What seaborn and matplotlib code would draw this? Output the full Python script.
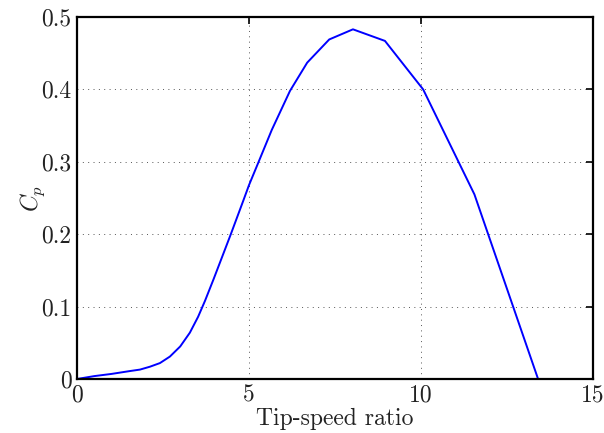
import matplotlib
matplotlib.use("Agg")
import matplotlib.pyplot as plt
import seaborn as sns
import pandas as pd

tsr = [0.0, 0.5, 1.0, 1.54, 1.83, 2.12, 2.41, 2.70, 3.0, 3.28, 3.52, 3.72, 3.97, 4.18,
       4.47, 4.83, 5.0, 5.27, 5.66, 6.19, 6.69, 7.33, 8.02, 8.95, 10.06, 11.55, 13.4]
cp = [0.0, 0.004, 0.007, 0.011, 0.013, 0.017, 0.022, 0.031, 0.045, 0.064, 0.086, 0.108, 0.138, 0.164,
      0.2, 0.246, 0.268, 0.299, 0.344, 0.398, 0.437, 0.469, 0.483, 0.467, 0.400, 0.255, 0.0]
xticks = [0, 5, 10, 15]
yticks = [0, 0.1, 0.2, 0.3, 0.4, 0.5]
ytick_labels = ["0", "0.1", "0.2", "0.3", "0.4", "0.5"]

df = pd.DataFrame({"tsr": tsr, "cp": cp})

sns.set_style("white")
plt.rcParams["font.family"] = ["cmr10", "DejaVu Serif"]
plt.rcParams["mathtext.fontset"] = "cm"
plt.rcParams["axes.formatter.use_mathtext"] = True

fig = plt.figure(figsize=(6.04, 4.33), dpi=100)
ax = fig.add_axes([0.1275, 0.1247, 0.982 - 0.1275, 0.9607 - 0.1247])
sns.lineplot(data=df, x="tsr", y="cp", sort=False, color="#0000ff", linewidth=1.4, ax=ax)

ax.set_xlim(0, 15)
ax.set_ylim(0, 0.5)
ax.set_xticks(xticks)
ax.set_xticklabels([str(v) for v in xticks])
ax.set_yticks(yticks)
ax.set_yticklabels(ytick_labels)
ax.grid(True, linestyle=(0, (1, 4.5)), color="#555555", linewidth=0.7)
for s in ax.spines.values():
    s.set_visible(True)
    s.set_color("black")
    s.set_linewidth(1.6)
ax.tick_params(direction="in", length=5, width=1.2, top=True, right=True,
               labelsize=17, pad=4, colors="black", labelcolor="#222222")
ax.set_xlabel("Tip-speed ratio", fontsize=17, labelpad=1, color="#222222")
ax.set_ylabel("$C_p$", fontsize=17, labelpad=-4, color="#222222")

fig.savefig("out.png", dpi=100)
